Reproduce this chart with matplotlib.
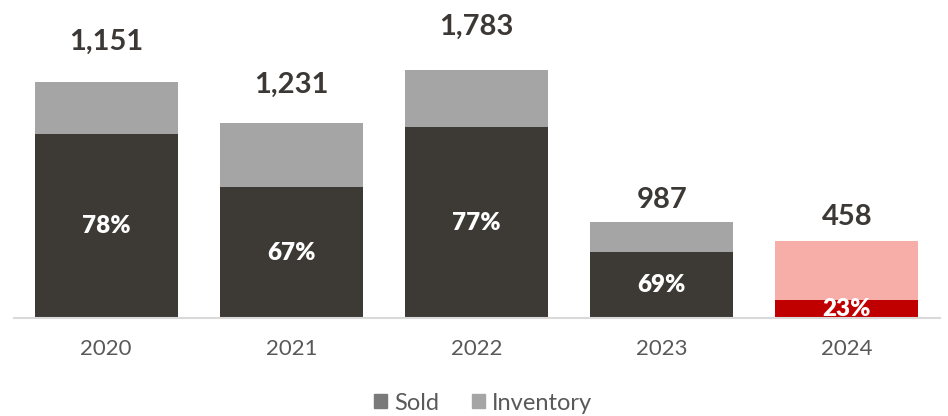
import matplotlib
matplotlib.use("Agg")
import matplotlib.pyplot as plt
from matplotlib.patches import Patch

plt.rcParams["font.family"] = ["Lato", "DejaVu Sans"]

# Data
years = ["2020", "2021", "2022", "2023", "2024"]
bar_total = [236, 195, 248, 96, 77]          # bar height per year
sold_pct = [78, 67, 77, 69, 23]              # share of the bar that was sold
total_labels = ["1,151", "1,231", "1,783", "987", "458"]

# Styling
sold_colors = ["#3D3A35", "#3D3A35", "#3D3A35", "#3D3A35", "#C00000"]
inv_colors = ["#A5A5A5", "#A5A5A5", "#A5A5A5", "#A5A5A5", "#F7ADA8"]
label_gap_px = [40, 38, 43, 22, 24]
dark_text = "#3B3835"
axis_text = "#595959"

sold = [t * p / 100 for t, p in zip(bar_total, sold_pct)]
inventory = [t - s for t, s in zip(bar_total, sold)]
x = list(range(len(years)))
width = 0.773

fig = plt.figure(figsize=(9.48, 4.16), dpi=100)
ax = fig.add_axes([13.5 / 948, 98 / 416, 926 / 948, 318 / 416])

ax.bar(x, sold, width=width, color=sold_colors, zorder=2)
ax.bar(x, inventory, width=width, bottom=sold, color=inv_colors, zorder=2)

for xi, s, t, pct, lab, gap in zip(x, sold, bar_total, sold_pct, total_labels, label_gap_px):
    ax.text(xi, s / 2, f"{pct}%", ha="center", va="center", color="white",
            fontsize=17.5, fontweight="heavy", zorder=3, clip_on=True)
    ax.annotate(lab, (xi, t), xytext=(0, gap), textcoords="offset pixels",
                ha="center", va="center", color=dark_text, fontsize=21,
                fontweight="bold", annotation_clip=False)

ax.set_xlim(-0.5, 4.5)
ax.set_ylim(0, 318)
ax.set_xticks(x)
ax.set_xticklabels(years, fontsize=16, color=axis_text)
ax.tick_params(axis="x", length=0, pad=15)
ax.set_yticks([])
for side in ["top", "right", "left"]:
    ax.spines[side].set_visible(False)
ax.spines["bottom"].set_color("#D9D9D9")
ax.spines["bottom"].set_linewidth(1.5)
ax.spines["bottom"].set_zorder(4)

handles = [Patch(color="#7A7A7A", label="Sold"),
           Patch(color="#A5A5A5", label="Inventory")]
fig.legend(handles=handles, loc="center", bbox_to_anchor=(483 / 948, 1 - 403 / 416),
           ncol=2, frameon=False, fontsize=17, handlelength=0.55, handleheight=0.55,
           handletextpad=0.3, columnspacing=1.4, labelcolor=axis_text)

fig.savefig("out.png", dpi=100)
